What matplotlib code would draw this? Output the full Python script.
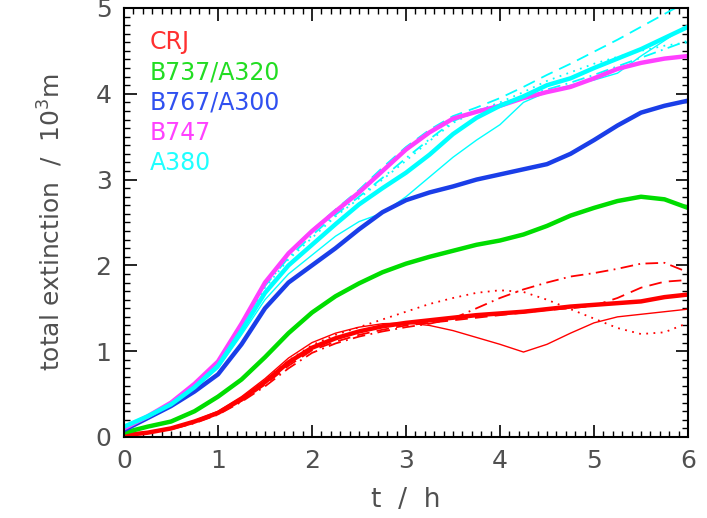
import matplotlib
matplotlib.use("Agg")
import matplotlib.pyplot as plt
from matplotlib.ticker import MultipleLocator
import numpy as np

# time axis (h), shared by all curves
t = [0, 0.25, 0.5, 0.75, 1, 1.25, 1.5, 1.75, 2, 2.25, 2.5, 2.75, 3,
     3.25, 3.5, 3.75, 4, 4.25, 4.5, 4.75, 5, 5.25, 5.5, 5.75, 6]

# CRJ (red)
crj_mean = [0.02, 0.05, 0.10, 0.18, 0.28, 0.44, 0.64, 0.87, 1.04, 1.15, 1.23, 1.29, 1.33,
            1.36, 1.39, 1.42, 1.44, 1.46, 1.49, 1.52, 1.54, 1.56, 1.58, 1.63, 1.66]
crj_solid = [0.02, 0.05, 0.10, 0.19, 0.30, 0.47, 0.68, 0.92, 1.10, 1.21, 1.28, 1.32, 1.33,
             1.30, 1.24, 1.16, 1.08, 0.99, 1.08, 1.21, 1.33, 1.40, 1.43, 1.46, 1.49]
crj_dot = [0.02, 0.05, 0.10, 0.18, 0.29, 0.45, 0.66, 0.89, 1.07, 1.19, 1.28, 1.37, 1.46,
           1.55, 1.62, 1.68, 1.71, 1.69, 1.60, 1.49, 1.38, 1.27, 1.20, 1.22, 1.33]
crj_dash = [0.02, 0.05, 0.09, 0.17, 0.27, 0.42, 0.61, 0.83, 1.01, 1.11, 1.19, 1.25, 1.30,
            1.33, 1.36, 1.39, 1.42, 1.45, 1.48, 1.50, 1.53, 1.62, 1.74, 1.81, 1.83]
crj_dashdot = [0.02, 0.05, 0.09, 0.16, 0.26, 0.41, 0.59, 0.80, 0.98, 1.09, 1.17, 1.23, 1.28,
               1.32, 1.38, 1.50, 1.62, 1.72, 1.80, 1.87, 1.91, 1.96, 2.02, 2.03, 1.92]

# B737/A320 (green)
b737 = [0.05, 0.12, 0.18, 0.30, 0.47, 0.67, 0.93, 1.21, 1.45, 1.64, 1.79, 1.92, 2.02,
        2.10, 2.17, 2.24, 2.29, 2.36, 2.46, 2.58, 2.67, 2.75, 2.80, 2.77, 2.67]

# B767/A300 (blue)
b767 = [0.08, 0.22, 0.36, 0.53, 0.73, 1.08, 1.50, 1.80, 2.00, 2.20, 2.42, 2.62, 2.76,
        2.85, 2.92, 3.00, 3.06, 3.12, 3.18, 3.30, 3.46, 3.63, 3.78, 3.86, 3.92]

# B747 (magenta)
b747 = [0.10, 0.24, 0.40, 0.62, 0.88, 1.32, 1.80, 2.14, 2.40, 2.63, 2.85, 3.10, 3.35,
        3.55, 3.71, 3.79, 3.86, 3.95, 4.02, 4.08, 4.18, 4.29, 4.36, 4.41, 4.44]

# A380 (cyan)
a380_mean = [0.12, 0.24, 0.38, 0.58, 0.83, 1.24, 1.68, 2.00, 2.24, 2.48, 2.71, 2.90, 3.08,
             3.29, 3.53, 3.72, 3.86, 3.97, 4.10, 4.18, 4.30, 4.41, 4.52, 4.65, 4.78]
a380_solid = [0.12, 0.23, 0.37, 0.56, 0.80, 1.19, 1.60, 1.90, 2.12, 2.34, 2.51, 2.61, 2.80,
              3.03, 3.26, 3.46, 3.64, 3.90, 4.02, 4.10, 4.16, 4.24, 4.44, 4.62, 4.80]
a380_dot = [0.12, 0.24, 0.39, 0.60, 0.86, 1.28, 1.74, 2.07, 2.32, 2.57, 2.78, 3.00, 3.22,
            3.45, 3.66, 3.80, 3.90, 4.02, 4.15, 4.25, 4.35, 4.43, 4.50, 4.56, 4.60]
a380_dash = [0.12, 0.24, 0.40, 0.62, 0.88, 1.32, 1.81, 2.15, 2.41, 2.65, 2.88, 3.14, 3.38,
             3.58, 3.74, 3.84, 3.95, 4.08, 4.22, 4.35, 4.49, 4.63, 4.78, 4.93, 5.08]
a380_dashdot = [0.12, 0.24, 0.39, 0.60, 0.86, 1.29, 1.76, 2.09, 2.35, 2.59, 2.80, 3.02, 3.25,
                3.47, 3.68, 3.80, 3.88, 3.97, 4.05, 4.13, 4.22, 4.32, 4.42, 4.52, 4.62]

labels = ['CRJ', 'B737/A320', 'B767/A300', 'B747', 'A380']
label_colors = ['#ff3030', '#22dd22', '#3050f0', '#ff40ff', '#20ffff']

RED, GREEN, BLUE, MAG, CYAN = '#ff0000', '#00dd00', '#1a3ee8', '#ff40ff', '#00ffff'
GREY = '#505050'

fig = plt.figure(figsize=(7.07, 5.18), dpi=100)
ax = fig.add_axes([0.1754, 0.1564, 0.7977, 0.8282])

thin = 1.0
thick = 3.2

# thin variants first, thick means on top
ax.plot(t, crj_solid, color=RED, lw=thin)
ax.plot(t, crj_dot, color=RED, lw=thin + 0.3, ls=(0, (1, 3)))
ax.plot(t, crj_dash, color=RED, lw=thin + 0.3, ls=(0, (7, 4)))
ax.plot(t, crj_dashdot, color=RED, lw=thin + 0.3, ls=(0, (7, 3, 1, 3)))

ax.plot(t, a380_solid, color=CYAN, lw=thin)
ax.plot(t, a380_dot, color=CYAN, lw=thin + 0.3, ls=(0, (1, 3)))
ax.plot(t, a380_dash, color=CYAN, lw=thin + 0.3, ls=(0, (7, 4)))
ax.plot(t, a380_dashdot, color=CYAN, lw=thin + 0.3, ls=(0, (7, 3, 1, 3)))

ax.plot(t, crj_mean, color=RED, lw=thick)
ax.plot(t, b737, color=GREEN, lw=thick)
ax.plot(t, b767, color=BLUE, lw=thick)
ax.plot(t, b747, color=MAG, lw=thick)
ax.plot(t, a380_mean, color=CYAN, lw=thick)

ax.set_xlim(0, 6)
ax.set_ylim(0, 5)
ax.xaxis.set_major_locator(MultipleLocator(1))
ax.xaxis.set_minor_locator(MultipleLocator(0.1))
ax.yaxis.set_major_locator(MultipleLocator(1))
ax.yaxis.set_minor_locator(MultipleLocator(0.1))
ax.tick_params(which='both', direction='in', top=True, right=True,
               color='black', labelcolor=GREY, labelsize=18)
ax.tick_params(which='major', length=9, width=1.2, pad=9)
ax.tick_params(which='minor', length=4.5, width=1.0)
for s in ax.spines.values():
    s.set_linewidth(1.5)

ax.set_xlabel('t  /  h', fontsize=19, color=GREY, labelpad=10)
ax.set_ylabel('total extinction  /  10$^3$m', fontsize=18, color=GREY, labelpad=22)

for i, (lab, c) in enumerate(zip(labels, label_colors)):
    ax.text(0.045, 0.92 - i * 0.0705, lab, transform=ax.transAxes, color=c,
            fontsize=17, va='center', ha='left')

fig.savefig('out.png', dpi=100)
